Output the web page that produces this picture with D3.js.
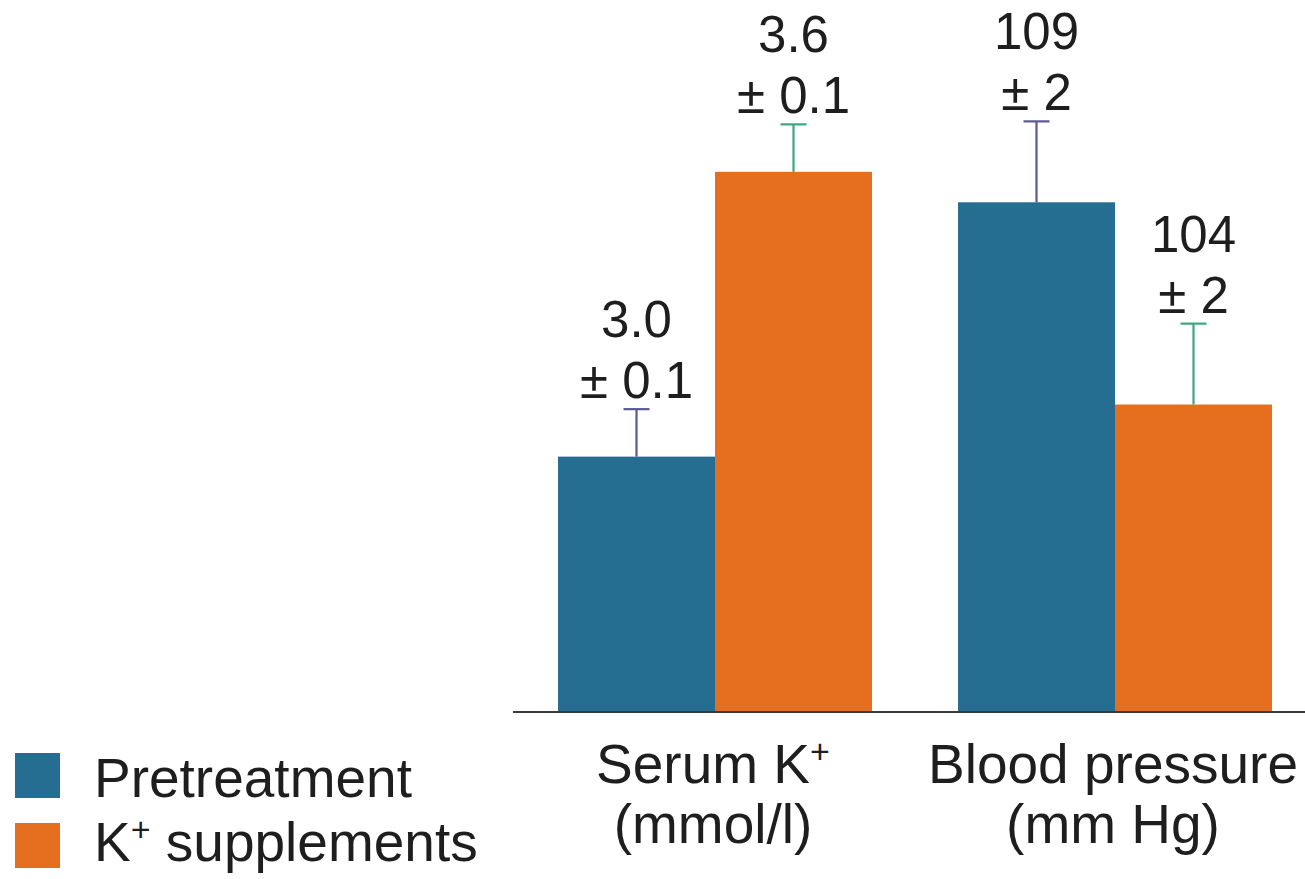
<!DOCTYPE html>
<html>
<head>
<meta charset="utf-8">
<script src="https://cdn.jsdelivr.net/npm/d3@7"></script>
<style>
  html, body { margin: 0; padding: 0; background: #fff; }
  svg { display: block; font-family: "Liberation Sans", Arial, Helvetica, sans-serif; }
</style>
</head>
<body>
<svg id="chart" width="1305" height="879"></svg>
<script>
// Measurements, one entry per group
const categories = ["serum", "bp"];
const categoryLines = [["Serum K", "(mmol/l)"], ["Blood pressure", "(mm Hg)"]];
const categorySup = [true, false];

// Series: mean and standard error for each group
const seriesNames = ["Pretreatment", "K+ supplements"];
const pretreatment = [3.0, 109];
const supplements = [3.6, 104];
const pretreatmentErr = [0.1, 2];
const supplementsErr = [0.1, 2];
const valueLabels = [["3.0", "109"], ["3.6", "104"]];
const errLabels = [["0.1", "2"], ["0.1", "2"]];

// Each group is shown on its own truncated axis
const groupDomains = [[2.462, 3.962], [96.4, 114.0]];

const colors = ["#266d92", "#e56f1f"];
const whiskerColors = ["#5a5894", "#3aa77e"];

const svg = d3.select("#chart");
const baseY = 712;

const x0 = d3.scaleBand().domain(categories).range([558, 1272]).paddingInner(0.215);
const x1 = d3.scaleBand().domain([0, 1]).range([0, x0.bandwidth()]).padding(0);
const yScales = groupDomains.map(d => d3.scaleLinear().domain(d).range([baseY, 0]));

const values = [pretreatment, supplements];
const errs = [pretreatmentErr, supplementsErr];

const rows = [];
categories.forEach((c, gi) => {
  [0, 1].forEach(si => {
    rows.push({ cat: c, gi, si, v: values[si][gi], e: errs[si][gi],
                label: valueLabels[si][gi], elabel: errLabels[si][gi] });
  });
});

// Bars
svg.append("g").selectAll("rect").data(rows).join("rect")
  .attr("x", d => x0(d.cat) + x1(d.si))
  .attr("y", d => yScales[d.gi](d.v))
  .attr("width", x1.bandwidth())
  .attr("height", d => baseY - yScales[d.gi](d.v))
  .attr("fill", d => colors[d.si]);

// Upper error whiskers
const wg = svg.append("g");
rows.forEach(d => {
  const y = yScales[d.gi];
  const cx = x0(d.cat) + x1(d.si) + x1.bandwidth() / 2;
  const top = y(d.v + d.e);
  wg.append("line").attr("x1", cx).attr("x2", cx)
    .attr("y1", y(d.v)).attr("y2", top)
    .attr("stroke", whiskerColors[d.si]).attr("stroke-width", 2.2);
  wg.append("line").attr("x1", cx - 13).attr("x2", cx + 13)
    .attr("y1", top).attr("y2", top)
    .attr("stroke", whiskerColors[d.si]).attr("stroke-width", 2.2);
});

// Value labels above the whiskers
const lg = svg.append("g").attr("fill", "#1e1e1e").attr("font-size", 51).attr("text-anchor", "middle");
rows.forEach(d => {
  const y = yScales[d.gi];
  const cx = x0(d.cat) + x1(d.si) + x1.bandwidth() / 2;
  const top = y(d.v + d.e);
  lg.append("text").attr("x", cx).attr("y", top - 11).text("\u00b1 " + d.elabel);
  lg.append("text").attr("x", cx).attr("y", top - 72).text(d.label);
});

// Baseline
svg.append("line").attr("x1", 513).attr("x2", 1305)
  .attr("y1", baseY).attr("y2", baseY)
  .attr("stroke", "#3a3a3a").attr("stroke-width", 2);

// Category labels
const cg = svg.append("g").attr("fill", "#1e1e1e").attr("font-size", 55).attr("text-anchor", "middle");
categories.forEach((c, gi) => {
  const cx = x0(c) + x0.bandwidth() / 2;
  const t1 = cg.append("text").attr("x", cx - 2).attr("y", 783);
  t1.append("tspan").text(categoryLines[gi][0]);
  if (categorySup[gi]) {
    t1.append("tspan").attr("font-size", 34).attr("dy", -20).text("+");
  }
  cg.append("text").attr("x", cx - 2).attr("y", 843).text(categoryLines[gi][1]);
});

// Legend
const leg = svg.append("g").attr("fill", "#1e1e1e").attr("font-size", 55);
seriesNames.forEach((name, i) => {
  leg.append("rect").attr("x", 15).attr("y", 753 + i * 70).attr("width", 45).attr("height", 45)
    .attr("fill", colors[i]);
  const t = leg.append("text").attr("x", 94).attr("y", 797 + i * 64);
  if (i === 1) {
    t.append("tspan").text("K");
    t.append("tspan").attr("font-size", 34).attr("dy", -20).text("+");
    t.append("tspan").attr("dy", 20).text(" supplements");
  } else {
    t.text(name);
  }
});
</script>
</body>
</html>
